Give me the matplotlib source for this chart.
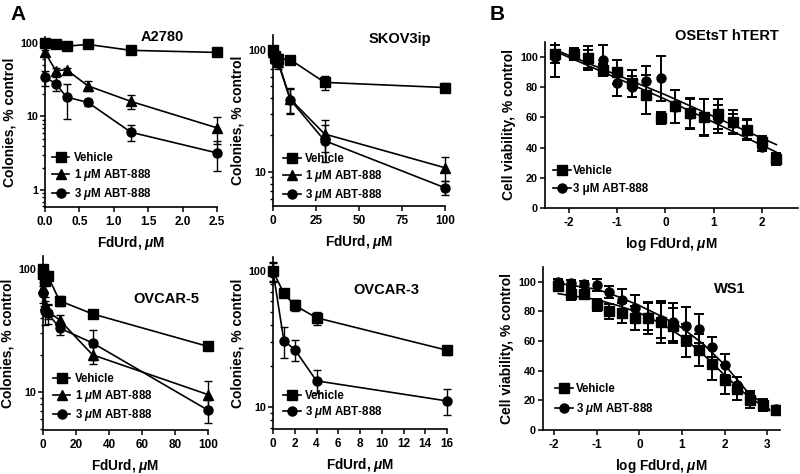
import matplotlib
matplotlib.use('Agg')
import matplotlib.pyplot as plt
from matplotlib.lines import Line2D
from matplotlib.ticker import LogLocator, NullFormatter, FixedLocator, FixedFormatter

plt.rcParams['font.family'] = 'Liberation Sans'
plt.rcParams['font.weight'] = 'bold'
plt.rcParams['axes.unicode_minus'] = False
plt.rcParams['mathtext.fontset'] = 'custom'
plt.rcParams['mathtext.rm'] = 'Liberation Sans:bold'
plt.rcParams['mathtext.it'] = 'Liberation Sans:italic:bold'
plt.rcParams['mathtext.bf'] = 'Liberation Sans:bold'

# ---- A2780
a2780_x = [0, 0.156, 0.3125, 0.625, 1.25, 2.5]
a2780_veh = [100, 96, 90, 95, 79, 74]
a2780_veh_err = [3, 3, 3, 3, 3, 3]
a2780_1um = [74, 42, 43, 26, 16, 7.0]
a2780_1um_err = [5, 3, 3, 4, 3.5, 2.8]
a2780_3um = [34, 28, 18.3, 15.5, 6.1, 3.2]
a2780_3um_err = [8, 6, 9, 1.5, 1.5, 1.4]

# ---- SKOV3ip
skov_x = [0, 1, 3, 10, 30, 100]
skov_veh = [100, 88, 84, 83, 54, 49]
skov_veh_err = [5, 4, 8, 5, 7, 4]
skov_1um = [95, 85, 80, 39.5, 20.4, 10.8]
skov_1um_err = [5, 6, 8, 9, 6, 2.4]
skov_3um = [92, 83, 78, 39, 18, 7.4]
skov_3um_err = [5, 6, 8, 9, 6, 1]

# ---- OVCAR-5
ovc5_x = [0, 0.3, 1, 3, 10, 30, 100]
ovc5_veh = [100, 90, 80, 87, 55, 43, 23.4]
ovc5_veh_err = [5, 5, 5, 5, 5, 3, 1]
ovc5_1um = [100, 70, 51, 45, 38.5, 20, 9.5]
ovc5_1um_err = [5, 8, 8, 6, 4, 3, 2.7]
ovc5_3um = [95, 63, 45, 43.5, 33, 25, 7.1]
ovc5_3um_err = [5, 10, 10, 8, 4, 7, 1.5]

# ---- OVCAR-3
ovc3_x = [0, 1, 2, 4, 16]
ovc3_veh = [100, 68.5, 56, 45.4, 26.2]
ovc3_veh_err = [17, 3, 5, 5, 2]
ovc3_3um = [100, 30.8, 26.5, 15.6, 11.1]
ovc3_3um_err = [15, 8, 4.5, 3, 2.4]

# ---- OSEtsT hTERT (log FdUrd)
ose_x = [-2.3, -1.9, -1.6, -1.3, -1.0, -0.7, -0.4, -0.1, 0.2, 0.5, 0.8, 1.1, 1.4, 1.7, 2.0, 2.3]
ose_veh = [102, 102, 99.6, 91.5, 90, 82.5, 75, 59.5, 67.5, 63, 60.5, 62.5, 57, 52, 44, 32.5]
ose_veh_err = [6, 4, 8, 4, 8, 9, 13, 4, 11, 10, 12, 10, 8, 7, 4, 4]
ose_3um = [100, 102, 99, 98, 82.5, 80.5, 84, 86, 67, 62.5, 60, 59, 56, 52, 40.5, 33]
ose_3um_err = [13, 4, 6, 10, 8, 7, 10, 15, 11, 10, 12, 9, 6, 6, 3, 3]
ose_fit_veh_x = [-2.3, 0, 2.3]
ose_fit_veh_y = [105, 75, 42]
ose_fit_3um_x = [-2.3, 0, 2.3]
ose_fit_3um_y = [104, 72, 37]

# ---- WS1 (log FdUrd)
ws1_x = [-1.9, -1.6, -1.3, -1.0, -0.7, -0.4, -0.1, 0.2, 0.5, 0.8, 1.1, 1.4, 1.7, 2.0, 2.3, 2.6, 2.9, 3.2]
ws1_veh = [97, 92, 92, 84.5, 80, 79, 75.5, 75.5, 73, 70.5, 60.5, 54, 44.5, 34, 28, 20, 17, 13.5]
ws1_veh_err = [3, 4, 2, 4, 5, 7, 8, 11, 14, 12, 11, 11, 11, 10, 8, 5, 4, 2]
ws1_3um = [100, 99.5, 98.5, 98, 93, 88, 82, 76.5, 74, 73, 70, 68.5, 56, 44, 30.5, 22.5, 16, 14.5]
ws1_3um_err = [2, 2, 2, 4, 4, 7, 9, 9, 12, 13, 13, 10, 7, 7, 5, 4, 3, 2]
ws1_fit_veh_x = [-1.9, -1.0, -0.5, 0, 0.5, 1.0, 1.5, 2.0, 2.5, 3.05]
ws1_fit_veh_y = [92, 88, 84, 79, 72, 63, 51, 37, 24, 13]
ws1_fit_3um_x = [-1.9, -1.0, -0.5, 0, 0.5, 1.0, 1.5, 2.0, 2.5, 3.05]
ws1_fit_3um_y = [99, 95, 90, 84, 77, 69, 58, 44, 27, 14]

LBL_VEH = 'Vehicle'
LBL_1UM = r'1 $\mathit{\mu}$M ABT-888'
LBL_3UM = r'3 $\mathit{\mu}$M ABT-888'
LBL_3UM_UP = '3 \u03bcM ABT-888'
XLBL = r'FdUrd, $\mathit{\mu}$M'
XLBL_LOG = r'log FdUrd, $\mathit{\mu}$M'

MARKERS = {'s': 6.5, '^': 7, 'o': 6.5}
XTICK_SIZE = 8.5
YTICK_SIZE = 7.8
YLABEL_SIZE = 10
XLABEL_SIZE = 9.8
LEGEND_SIZE = 8.3


def style_axis(ax):
    for side in ['top', 'right']:
        ax.spines[side].set_visible(False)
    for side in ['left', 'bottom']:
        ax.spines[side].set_linewidth(1.2)
    ax.tick_params(which='major', direction='out', length=3.5, width=1.1, pad=1.5)
    ax.tick_params(axis='x', which='major', labelsize=XTICK_SIZE, pad=3)
    ax.tick_params(axis='y', which='major', labelsize=YTICK_SIZE)
    ax.tick_params(which='minor', direction='out', length=2.2, width=1.0)
    for lab in ax.get_xticklabels() + ax.get_yticklabels():
        lab.set_fontweight('bold')


def colony_series(ax, x, y, err, marker, label):
    ax.errorbar(x, y, yerr=err, fmt='none', ecolor='black', elinewidth=1.0,
                capsize=3, capthick=1.0, clip_on=False, zorder=2)
    ax.plot(x, y, color='black', lw=1.2, marker=marker, ms=MARKERS[marker],
            clip_on=False, label=label, zorder=3)


def colony_panel(ax, rect_title, series, xlim, xticks, xticklabels, ylim, legend_anchor):
    for x, y, err, marker, label in series:
        colony_series(ax, x, y, err, marker, label)
    ax.set_yscale('log')
    ax.set_ylim(*ylim)
    ax.set_xlim(*xlim)
    ax.set_xticks(xticks)
    ax.set_xticklabels(xticklabels)
    ax.yaxis.set_major_locator(FixedLocator([1, 10, 100]))
    ax.yaxis.set_major_formatter(FixedFormatter(['1', '10', '100']))
    ax.yaxis.set_minor_locator(LogLocator(base=10, subs=range(2, 10)))
    ax.yaxis.set_minor_formatter(NullFormatter())
    ax.set_ylabel('Colonies, % control', fontsize=YLABEL_SIZE, fontweight='bold', labelpad=3)
    ax.set_xlabel(XLBL, fontsize=XLABEL_SIZE, fontweight='bold', labelpad=4)
    ax.text(rect_title[1], rect_title[2], rect_title[0], transform=ax.transAxes,
            ha='center', va='center', fontsize=10.5, fontweight='bold')
    ax.legend(loc='lower left', bbox_to_anchor=legend_anchor, frameon=False, fontsize=LEGEND_SIZE,
              handlelength=1.5, handletextpad=0.4, labelspacing=0.25, borderpad=0,
              borderaxespad=0)
    style_axis(ax)


def viability_panel(ax, title, tpos, x, veh, veh_err, drug, drug_err, fits,
                    xlim, xticks, drug_label, legend_anchor):
    ax.errorbar(x, veh, yerr=veh_err, fmt='none', ecolor='black', elinewidth=1.4,
                capsize=3.5, capthick=1.4, zorder=2)
    ax.errorbar(x, drug, yerr=drug_err, fmt='none', ecolor='black', elinewidth=1.4,
                capsize=3.5, capthick=1.4, zorder=2)
    ax.plot(x, veh, ls='none', marker='s', ms=6.5, color='black', zorder=3)
    ax.plot(x, drug, ls='none', marker='o', ms=6.5, color='black', zorder=3)
    for fx, fy in fits:
        ax.plot(fx, fy, color='black', lw=1.2, zorder=4)
    ax.set_xlim(*xlim)
    ax.set_ylim(0, 110)
    ax.set_xticks(xticks)
    ax.set_yticks([0, 20, 40, 60, 80, 100])
    ax.set_ylabel('Cell viability, % control', fontsize=YLABEL_SIZE, fontweight='bold', labelpad=3)
    ax.set_xlabel(XLBL_LOG, fontsize=XLABEL_SIZE, fontweight='bold', labelpad=4)
    ax.text(tpos[0], tpos[1], title, transform=ax.transAxes, ha='center', va='center',
            fontsize=10.5, fontweight='bold')
    handles = [Line2D([], [], color='black', lw=1.2, marker='s', ms=6.5),
               Line2D([], [], color='black', lw=1.2, marker='o', ms=6.5)]
    ax.legend(handles, [LBL_VEH, drug_label], loc='lower left', bbox_to_anchor=legend_anchor,
              frameon=False, fontsize=LEGEND_SIZE, handlelength=1.6, handletextpad=0.2,
              labelspacing=0.5, borderpad=0, borderaxespad=0)
    style_axis(ax)


def main():
    fig = plt.figure(figsize=(8.0, 4.74), dpi=100)

    ax1 = fig.add_axes([0.05625, 0.5633, 0.215, 0.3587])
    colony_panel(ax1, ('A2780', 0.68, 1.0),
                 [(a2780_x, a2780_veh, a2780_veh_err, 's', LBL_VEH),
                  (a2780_x, a2780_1um, a2780_1um_err, '^', LBL_1UM),
                  (a2780_x, a2780_3um, a2780_3um_err, 'o', LBL_3UM)],
                 (0, 2.5), [0, 0.5, 1.0, 1.5, 2.0, 2.5],
                 ['0.0', '0.5', '1.0', '1.5', '2.0', '2.5'], (0.59, 120), (0.04, 0.03))

    ax2 = fig.add_axes([0.34125, 0.5654, 0.215, 0.3608])
    colony_panel(ax2, ('SKOV3ip', 0.74, 0.977),
                 [(skov_x, skov_veh, skov_veh_err, 's', LBL_VEH),
                  (skov_x, skov_1um, skov_1um_err, '^', LBL_1UM),
                  (skov_x, skov_3um, skov_3um_err, 'o', LBL_3UM)],
                 (0, 100), [0, 25, 50, 75, 100],
                 ['0', '25', '50', '75', '100'], (5.25, 132), (0.06, 0.02))

    ax3 = fig.add_axes([0.05375, 0.0928, 0.20625, 0.3671])
    colony_panel(ax3, ('OVCAR-5', 0.745, 0.753),
                 [(ovc5_x, ovc5_veh, ovc5_veh_err, 's', LBL_VEH),
                  (ovc5_x, ovc5_1um, ovc5_1um_err, '^', LBL_1UM),
                  (ovc5_x, ovc5_3um, ovc5_3um_err, 'o', LBL_3UM)],
                 (0, 100), [0, 20, 40, 60, 80, 100],
                 ['0', '20', '40', '60', '80', '100'], (4.9, 127), (0.06, 0.04))

    ax4 = fig.add_axes([0.34125, 0.0949, 0.2175, 0.3629])
    colony_panel(ax4, ('OVCAR-3', 0.65, 0.81),
                 [(ovc3_x, ovc3_veh, ovc3_veh_err, 's', LBL_VEH),
                  (ovc3_x, ovc3_3um, ovc3_3um_err, 'o', LBL_3UM)],
                 (0, 16), [0, 2, 4, 6, 8, 10, 12, 14, 16],
                 ['0', '2', '4', '6', '8', '10', '12', '14', '16'], (6.9, 127), (0.06, 0.05))

    ax5 = fig.add_axes([0.68125, 0.5612, 0.31625, 0.3502])
    viability_panel(ax5, 'OSEtsT hTERT', (0.72, 1.036), ose_x, ose_veh, ose_veh_err,
                    ose_3um, ose_3um_err,
                    [(ose_fit_veh_x, ose_fit_veh_y), (ose_fit_3um_x, ose_fit_3um_y)],
                    (-2.5, 2.75), [-2, -1, 0, 1, 2], LBL_3UM_UP, (0.03, 0.08))

    ax6 = fig.add_axes([0.67875, 0.0928, 0.29625, 0.3439])
    viability_panel(ax6, 'WS1', (0.79, 0.865), ws1_x, ws1_veh, ws1_veh_err,
                    ws1_3um, ws1_3um_err,
                    [(ws1_fit_veh_x, ws1_fit_veh_y), (ws1_fit_3um_x, ws1_fit_3um_y)],
                    (-2.26, 3.3), [-2, -1, 0, 1, 2, 3], LBL_3UM, (0.05, 0.08))

    fig.text(0.023, 0.97, 'A', fontsize=15, fontweight='bold', ha='center', va='center')
    fig.text(0.621, 0.97, 'B', fontsize=15, fontweight='bold', ha='center', va='center')

    fig.savefig('out.png', dpi=100)


if __name__ == '__main__':
    main()
